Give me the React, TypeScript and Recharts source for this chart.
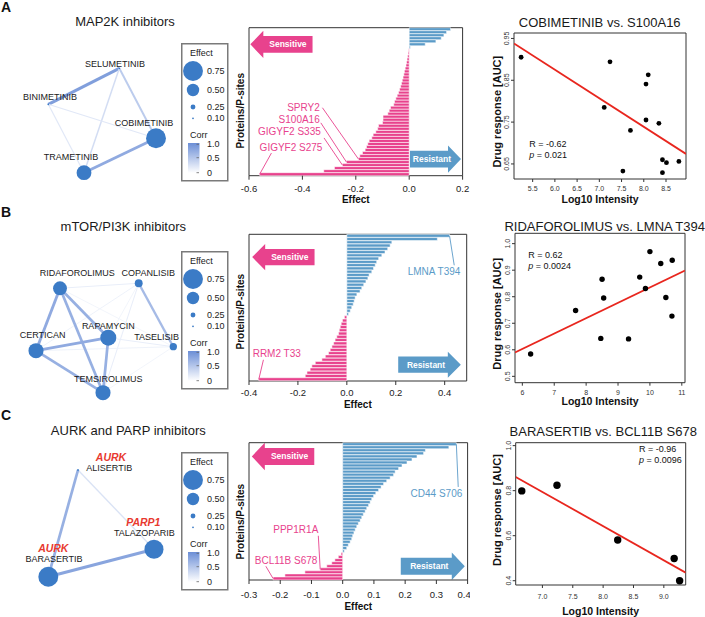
import React from 'react';
import {
  BarChart, Bar, Cell, XAxis, YAxis, ScatterChart, Scatter,
  ReferenceArea, ReferenceDot, ReferenceLine,
} from 'recharts';

const FONT = '"Liberation Sans", Arial, Helvetica, sans-serif';
const PINK = '#E8428D';
const BLUE = '#5B9BC8';
const NODE = '#3B7BC6';
const TARGET_RED = '#E8392F';
const FIT_RED = '#E8261E';

// ---------- network data ----------
const mapkDrugs = ['SELUMETINIB', 'BINIMETINIB', 'COBIMETINIB', 'TRAMETINIB'];
const mapkEffect = [0.08, 0.13, 0.75, 0.58];
const mapkEdges: [string, string, number][] = [
  ['BINIMETINIB', 'SELUMETINIB', 0.85],
  ['COBIMETINIB', 'TRAMETINIB', 0.75],
  ['SELUMETINIB', 'COBIMETINIB', 0.45],
  ['SELUMETINIB', 'TRAMETINIB', 0.3],
  ['BINIMETINIB', 'TRAMETINIB', 0.2],
  ['BINIMETINIB', 'COBIMETINIB', 0.2],
];
// node x, node y, label x, label y (layout units of the panel)
const mapkLayout: Record<string, number[]> = {
  SELUMETINIB: [119.3, 68.3, 115, 64.3],
  BINIMETINIB: [48.3, 104.3, 50, 96.7],
  COBIMETINIB: [156, 138.3, 144, 122.7],
  TRAMETINIB: [84, 172.7, 71, 156.7],
};

const mtorDrugs = ['RIDAFOROLIMUS', 'COPANLISIB', 'RAPAMYCIN', 'CERTICAN', 'TASELISIB', 'TEMSIROLIMUS'];
const mtorEffect = [0.55, 0.35, 0.62, 0.59, 0.33, 0.59];
const mtorEdges: [string, string, number][] = [
  ['RIDAFOROLIMUS', 'COPANLISIB', 0.15],
  ['COPANLISIB', 'CERTICAN', 0.12],
  ['COPANLISIB', 'TEMSIROLIMUS', 0.15],
  ['COPANLISIB', 'RAPAMYCIN', 0.1],
  ['RAPAMYCIN', 'TASELISIB', 0.15],
  ['CERTICAN', 'TASELISIB', 0.12],
  ['RIDAFOROLIMUS', 'TASELISIB', 0.1],
  ['TEMSIROLIMUS', 'TASELISIB', 0.1],
  ['COPANLISIB', 'TASELISIB', 0.6],
  ['RIDAFOROLIMUS', 'CERTICAN', 0.75],
  ['RIDAFOROLIMUS', 'RAPAMYCIN', 0.7],
  ['RIDAFOROLIMUS', 'TEMSIROLIMUS', 0.7],
  ['CERTICAN', 'RAPAMYCIN', 0.75],
  ['CERTICAN', 'TEMSIROLIMUS', 0.7],
  ['RAPAMYCIN', 'TEMSIROLIMUS', 0.7],
];
const mtorLayout: Record<string, number[]> = {
  RIDAFOROLIMUS: [60, 83.3, 77.3, 68.3],
  COPANLISIB: [138.7, 78.3, 148.3, 67.7],
  RAPAMYCIN: [108.3, 132.7, 108.3, 120.7],
  CERTICAN: [36, 145.7, 42.7, 129.7],
  TASELISIB: [173.3, 141.7, 156.7, 131.7],
  TEMSIROLIMUS: [103, 187.7, 108.3, 174],
};

const aurkDrugs = ['ALISERTIB', 'TALAZOPARIB', 'BARASERTIB'];
const aurkEffect = [0.12, 0.72, 0.75];
const aurkEdges: [string, string, number][] = [
  ['ALISERTIB', 'TALAZOPARIB', 0.25],
  ['ALISERTIB', 'BARASERTIB', 0.7],
  ['BARASERTIB', 'TALAZOPARIB', 0.8],
];
const aurkLayout: Record<string, number[]> = {
  ALISERTIB: [78, 60, 109.3, 58.3],
  TALAZOPARIB: [154, 139.3, 144.3, 122.7],
  BARASERTIB: [48.3, 166.7, 54, 149.3],
};
const aurkTargets = [
  { text: 'AURK', x: 111, y: 47.3 },
  { text: 'PARP1', x: 143.3, y: 112.3 },
  { text: 'AURK', x: 53.3, y: 138.3 },
];

const legendEffects = [0.75, 0.5, 0.25, 0.1];
const legendCorrTicks = ['1.0', '0.5', '0'];

// ---------- waterfall data (top to bottom) ----------
const effectsMapk = [
  0.155, 0.14, 0.13, 0.12, 0.1, 0.06, 0.004,
  -0.002, -0.004, -0.006, -0.008, -0.01, -0.012, -0.015, -0.018, -0.02, -0.023,
  -0.026, -0.029, -0.032, -0.036, -0.04, -0.045, -0.05, -0.055, -0.058, -0.07,
  -0.075, -0.08, -0.098, -0.098, -0.1, -0.115, -0.118, -0.125, -0.135, -0.14,
  -0.15, -0.155, -0.16, -0.165, -0.175, -0.185, -0.19, -0.235, -0.25, -0.28,
  -0.32, -0.56,
];
const hitsMapk = [
  { name: 'SPRY2', index: 43, tx: -0.335, ty: 0.543, lx: -0.325, ly: 0.549, anchor: 'end' },
  { name: 'S100A16', index: 44, tx: -0.335, ty: 0.622, lx: -0.331, ly: 0.635, anchor: 'end' },
  { name: 'GIGYF2 S335', index: 45, tx: -0.331, ty: 0.714, lx: -0.319, ly: 0.736, anchor: 'end' },
  { name: 'GIGYF2 S275', index: 48, tx: -0.325, ty: 0.797, lx: -0.516, ly: 0.838, anchor: 'end' },
];

const effectsMtor = [
  0.42, 0.37, 0.184, 0.177, 0.167, 0.156, 0.143, 0.13, 0.122, 0.116, 0.109, 0.102,
  0.091, 0.086, 0.078, 0.069, 0.061, 0.054, 0.041, 0.034, 0.03, 0.026, 0.02, 0.014, 0.007,
  -0.01, -0.018, -0.023, -0.027, -0.031, -0.034, -0.041, -0.048, -0.054, -0.061,
  -0.068, -0.075, -0.088, -0.102, -0.129, -0.143, -0.15, -0.163, -0.17, -0.36,
];
const hitsMtor = [
  { name: 'LMNA T394', index: 0, tx: 0.464, ty: 0.266, lx: 0.439, ly: 0.219, anchor: 'end' },
  { name: 'RRM2 T33', index: 44, tx: -0.385, ty: 0.816, lx: -0.341, ly: 0.852, anchor: 'start' },
];

const effectsAurk = [
  0.364, 0.34, 0.265, 0.259, 0.238, 0.222, 0.206, 0.19, 0.179, 0.168, 0.163, 0.152,
  0.141, 0.131, 0.123, 0.115, 0.106, 0.099, 0.093, 0.088, 0.083, 0.077, 0.072, 0.066,
  0.061, 0.056, 0.05, 0.045, 0.04, 0.036, 0.032, 0.029, 0.024, 0.018, 0.013, 0.005,
  -0.005, -0.014, -0.025, -0.035, -0.051, -0.072, -0.121, -0.185, -0.223,
];
const hitsAurk = [
  { name: 'CD44 S706', index: 0, tx: 0.383, ty: 0.364, lx: 0.37, ly: 0.32, anchor: 'end' },
  { name: 'PPP1R1A', index: 41, tx: -0.078, ty: 0.636, lx: -0.078, ly: 0.68, anchor: 'end' },
  { name: 'BCL11B S678', index: 44, tx: -0.081, ty: 0.854, lx: -0.246, ly: 0.896, anchor: 'end' },
];

// ---------- scatter data ----------
const s100a16Intensity = [5.24, 7.24, 7.11, 7.53, 7.7, 8.05, 8.1, 8.05, 8.34, 8.42, 8.51, 8.42, 8.79];
const cobimetinibAuc = [0.905, 0.894, 0.785, 0.633, 0.73, 0.841, 0.863, 0.755, 0.747, 0.66, 0.653, 0.629, 0.656];
const cobimetinibFit = [[5.08, 0.938], [8.95, 0.674]];

const lmnaIntensity = [6.26, 7.67, 8.5, 8.55, 8.46, 9.33, 9.68, 9.86, 10.0, 10.34, 10.5, 10.69, 10.7];
const ridaforolimusAuc = [0.584, 0.748, 0.866, 0.795, 0.643, 0.641, 0.874, 0.831, 0.97, 0.925, 0.797, 0.727, 0.9375];
const ridaforolimusFit = [[5.77, 0.59], [11.1, 0.899]];

const bcl11bIntensity = [6.66, 7.24, 8.24, 9.17, 9.26];
const barasertibAuc = [0.799, 0.824, 0.581, 0.499, 0.4];
const barasertibFit = [[6.56, 0.861], [9.36, 0.436]];

// ---------- helpers ----------
const nodeR = (e: number) => Math.max(0.9, 15 * e - 1.3);
const corrColor = (c: number) => {
  const to = [107, 142, 214];
  const ch = to.map((v) => Math.round(255 + (v - 255) * c));
  return `rgb(${ch[0]},${ch[1]},${ch[2]})`;
};
const corrWidth = (c: number) => 0.6 + 3 * c;

function Legend({ top }: { top: number }) {
  const cys = [28, 47, 64, 75.3];
  const tys = [101.3, 114.7, 129.7];
  return (
    <svg style={{ position: 'absolute', left: 181, top, overflow: 'visible' }} width={48} height={140}>
      <defs>
        <linearGradient id={`corr${top}`} x1="0" y1="0" x2="0" y2="1">
          <stop offset="0" stopColor={corrColor(1)} />
          <stop offset="1" stopColor="#ffffff" />
        </linearGradient>
      </defs>
      <rect x={0.75} y={0.75} width={46} height={137} fill="#fff" stroke="#7a7a7a" strokeWidth={1.5} />
      <text x={9} y={10} fontSize={9} dominantBaseline="central" fill="#222" fontFamily={FONT}>Effect</text>
      {legendEffects.map((e, i) => (
        <g key={e}>
          <circle cx={12} cy={cys[i]} r={nodeR(e)} fill={NODE} />
          <text x={26} y={cys[i]} fontSize={9} dominantBaseline="central" fill="#222" fontFamily={FONT}>{e.toFixed(2)}</text>
        </g>
      ))}
      <text x={9} y={92} fontSize={9} dominantBaseline="central" fill="#222" fontFamily={FONT}>Corr</text>
      <rect x={7} y={100} width={11.5} height={30} fill={`url(#corr${top})`} />
      {legendCorrTicks.map((t, i) => (
        <g key={t}>
          <line x1={15.5} x2={18} y1={tys[i]} y2={tys[i]} stroke="#666" strokeWidth={0.8} />
          <text x={26} y={tys[i]} fontSize={9} dominantBaseline="central" fill="#222" fontFamily={FONT}>{t}</text>
        </g>
      ))}
    </svg>
  );
}

type NetCfg = {
  top: number; height: number; legendTop: number;
  drugs: string[]; effects: number[]; edges: [string, string, number][];
  layout: Record<string, number[]>; targets?: { text: string; x: number; y: number }[];
};

function Network({ cfg }: { cfg: NetCfg }) {
  const nodes = cfg.drugs.map((d, i) => ({ x: cfg.layout[d][0], y: cfg.layout[d][1], effect: cfg.effects[i] }));
  const labels = cfg.drugs.map((d) => ({ x: cfg.layout[d][2], y: cfg.layout[d][3], text: d }));
  const targets = cfg.targets || [];
  return (
    <div style={{ position: 'absolute', left: 0, top: cfg.top, width: 180, height: cfg.height }}>
      <ScatterChart width={180} height={cfg.height} margin={{ top: 0, right: 0, bottom: 0, left: 0 }}>
        <XAxis type="number" dataKey="x" domain={[0, 180]} hide allowDataOverflow />
        <YAxis type="number" dataKey="y" domain={[0, cfg.height]} reversed hide allowDataOverflow />
        {cfg.edges.map(([a, b, c]) => (
          <Scatter
            key={a + b}
            data={[{ x: cfg.layout[a][0], y: cfg.layout[a][1] }, { x: cfg.layout[b][0], y: cfg.layout[b][1] }]}
            fill={corrColor(c)}
            line={{ stroke: corrColor(c), strokeWidth: corrWidth(c) }}
            shape={() => <g />}
            isAnimationActive={false}
          />
        ))}
        <Scatter
          data={nodes}
          fill={NODE}
          shape={(p: any) => <circle cx={p.cx} cy={p.cy} r={nodeR(p.payload.effect)} fill={NODE} />}
          isAnimationActive={false}
        />
        <Scatter
          data={labels}
          shape={(p: any) => (
            <text x={p.cx} y={p.cy} textAnchor="middle" dominantBaseline="central" fontSize={9} fill="#1a1a1a" fontFamily={FONT}>
              {p.payload.text}
            </text>
          )}
          isAnimationActive={false}
        />
        {targets.length > 0 && (
          <Scatter
            data={targets}
            shape={(p: any) => (
              <text x={p.cx} y={p.cy} textAnchor="middle" dominantBaseline="central" fontSize={10.5} fontWeight={700} fontStyle="italic" fill={TARGET_RED} fontFamily={FONT}>
                {p.payload.text}
              </text>
            )}
            isAnimationActive={false}
          />
        )}
      </ScatterChart>
      <Legend top={cfg.legendTop} />
    </div>
  );
}

const arrowShape = (dir: 'left' | 'right', text: string, color: string) => (p: any) => {
  const { x, y, width: w, height: h } = p;
  const hw = 13;
  const bh = h * 0.62;
  const by = y + (h - bh) / 2;
  const mid = y + h / 2;
  const pts = dir === 'left'
    ? [[x, mid], [x + hw, y], [x + hw, by], [x + w, by], [x + w, by + bh], [x + hw, by + bh], [x + hw, y + h]]
    : [[x + w, mid], [x + w - hw, y], [x + w - hw, by], [x, by], [x, by + bh], [x + w - hw, by + bh], [x + w - hw, y + h]];
  const tx = dir === 'left' ? x + hw + (w - hw) / 2 : x + (w - hw) / 2 + 3;
  return (
    <g>
      <polygon points={pts.map((q) => q.join(',')).join(' ')} fill={color} />
      <text x={tx} y={mid} textAnchor="middle" dominantBaseline="central" fontSize={8.5} fontWeight={700} fill="#fff" fontFamily={FONT}>
        {text}
      </text>
    </g>
  );
};

type Hit = { name: string; index: number; tx: number; ty: number; lx: number; ly: number; anchor: string };
type BarCfg = {
  key: string; top: number; height: number; plotTop: number; plotBottom: number; plotRight: number;
  effects: number[]; domain: [number, number]; ticks: number[]; tickMargin: number; titleOffset: number;
  yTitleY: number; hits: Hit[]; sens: number[]; res: number[];
};

function Waterfall({ cfg }: { cfg: BarCfg }) {
  const data = cfg.effects.map((v, i) => ({ id: `${cfg.key}${i}`, effect: v }));
  const n = data.length;
  const ids = data.map((d) => d.id);
  const clampIdx = (i: number) => Math.min(n - 1, Math.max(0, i));
  // row at a relative height of the plot (0 = top row, 1 = bottom row)
  const rowAt = (rel: number) => ids[clampIdx(Math.round(rel * n - 0.5))];
  const rowFrom = (rel: number) => ids[clampIdx(Math.round(rel * n))];
  const rowTo = (rel: number) => ids[clampIdx(Math.round(rel * n) - 1)];
  return (
    <div style={{ position: 'absolute', left: 230, top: cfg.top, width: 240, height: cfg.height }}>
      <BarChart
        layout="vertical"
        width={240}
        height={cfg.height}
        data={data}
        barCategoryGap={0}
        margin={{ top: cfg.plotTop - cfg.top, right: 470 - cfg.plotRight, bottom: 0, left: 0 }}
      >
        <XAxis
          type="number"
          domain={cfg.domain}
          ticks={cfg.ticks}
          allowDataOverflow
          height={cfg.top + cfg.height - cfg.plotBottom}
          axisLine={false}
          tickSize={4}
          tickMargin={cfg.tickMargin}
          tickLine={{ stroke: '#333' }}
          tick={{ fontSize: 9.5, fill: '#222', fontFamily: FONT }}
          tickFormatter={(v: number) => v.toFixed(1)}
          label={{ value: 'Effect', position: 'insideBottom', offset: cfg.titleOffset, fontSize: 10, fontWeight: 700, fill: '#111', fontFamily: FONT }}
        />
        <YAxis
          type="category"
          dataKey="id"
          width={19}
          tick={false}
          axisLine={false}
          tickLine={false}
          label={() => {
            const cx = 11;
            const cy = cfg.yTitleY - cfg.top;
            return (
              <text x={cx} y={cy} transform={`rotate(-90 ${cx} ${cy})`} textAnchor="middle" dominantBaseline="central" fontSize={10} fontWeight={700} fill="#111" fontFamily={FONT}>
                Proteins/P-sites
              </text>
            );
          }}
        />
        <Bar dataKey="effect" stroke="#fff" strokeWidth={0.55} isAnimationActive={false}>
          {data.map((d) => (
            <Cell key={d.id} fill={d.effect < 0 ? PINK : BLUE} />
          ))}
        </Bar>
        <ReferenceArea
          x1={cfg.sens[0]} x2={cfg.sens[1]} y1={rowFrom(cfg.sens[2])} y2={rowTo(cfg.sens[3])}
          ifOverflow="visible" shape={arrowShape('left', 'Sensitive', PINK)}
        />
        <ReferenceArea
          x1={cfg.res[0]} x2={cfg.res[1]} y1={rowFrom(cfg.res[2])} y2={rowTo(cfg.res[3])}
          ifOverflow="visible" shape={arrowShape('right', 'Resistant', BLUE)}
        />
        {cfg.hits.map((h) => {
          const col = cfg.effects[h.index] < 0 ? PINK : BLUE;
          return (
            <ReferenceLine
              key={`l${h.name}`}
              ifOverflow="visible"
              segment={[{ x: h.lx, y: rowAt(h.ly) }, { x: cfg.effects[h.index], y: ids[h.index] }]}
              stroke={col}
              strokeWidth={0.9}
            />
          );
        })}
        {cfg.hits.map((h) => {
          const col = cfg.effects[h.index] < 0 ? PINK : BLUE;
          return (
            <ReferenceDot
              key={`t${h.name}`}
              x={h.tx}
              y={rowAt(h.ty)}
              r={0}
              ifOverflow="visible"
              shape={(p: any) => (
                <text x={p.cx} y={p.cy} textAnchor={h.anchor} dominantBaseline="central" fontSize={10} fill={col} fontFamily={FONT}>
                  {h.name}
                </text>
              )}
            />
          );
        })}
        <ReferenceArea
          x1={cfg.domain[0]} x2={cfg.domain[1]} y1={ids[0]} y2={ids[n - 1]}
          ifOverflow="visible" fill="none" fillOpacity={0} stroke="#333" strokeWidth={1}
        />
      </BarChart>
    </div>
  );
}

type ScCfg = {
  top: number; height: number; plotTop: number; plotBottom: number; plotLeft: number; plotRight: number;
  xs: number[]; ys: number[]; fit: number[][];
  xDomain: [number, number]; yDomain: [number, number]; xTicks: number[]; yTicks: number[];
  xDigits: number; yDigits: number; dotR: number; xTickMargin: number; xTitleOffset: number;
  yTitleY: number; stat: { r: string; p: string; x: number; y: number };
};

function Correlation({ cfg }: { cfg: ScCfg }) {
  const pts = cfg.xs.map((x, i) => ({ x, y: cfg.ys[i] }));
  const fit = cfg.fit.map(([x, y]) => ({ x, y }));
  return (
    <div style={{ position: 'absolute', left: 465, top: cfg.top, width: 240, height: cfg.height }}>
      <ScatterChart
        width={240}
        height={cfg.height}
        margin={{ top: cfg.plotTop - cfg.top, right: 705 - cfg.plotRight, bottom: 0, left: 0 }}
      >
        <XAxis
          type="number"
          dataKey="x"
          domain={cfg.xDomain}
          ticks={cfg.xTicks}
          allowDataOverflow
          height={cfg.top + cfg.height - cfg.plotBottom}
          axisLine={false}
          tickSize={3}
          tickMargin={cfg.xTickMargin}
          tickLine={{ stroke: '#333' }}
          tick={{ fontSize: 7, fill: '#333', fontFamily: FONT }}
          tickFormatter={(v: number) => v.toFixed(cfg.xDigits)}
          label={{ value: 'Log10 Intensity', position: 'insideBottom', offset: cfg.xTitleOffset, fontSize: 10.5, fontWeight: 700, fill: '#111', fontFamily: FONT }}
        />
        <YAxis
          type="number"
          dataKey="y"
          domain={cfg.yDomain}
          ticks={cfg.yTicks}
          allowDataOverflow
          width={cfg.plotLeft - 465}
          axisLine={false}
          tickSize={3}
          tickMargin={2}
          tickLine={{ stroke: '#333' }}
          tick={(p: any) => (
            <text x={p.x} y={p.y} transform={`rotate(-90 ${p.x} ${p.y})`} textAnchor="middle" fontSize={7} fill="#333" fontFamily={FONT}>
              {Number(p.payload.value).toFixed(cfg.yDigits)}
            </text>
          )}
          label={() => {
            const cx = 31.7;
            const cy = cfg.yTitleY - cfg.top;
            return (
              <text x={cx} y={cy} transform={`rotate(-90 ${cx} ${cy})`} textAnchor="middle" dominantBaseline="central" fontSize={11} fontWeight={700} fill="#111" fontFamily={FONT}>
                Drug response [AUC]
              </text>
            );
          }}
        />
        <Scatter
          data={fit}
          fill={FIT_RED}
          line={{ stroke: FIT_RED, strokeWidth: 1.8 }}
          shape={() => <g />}
          isAnimationActive={false}
        />
        <Scatter
          data={pts}
          fill="#000"
          shape={(p: any) => <circle cx={p.cx} cy={p.cy} r={cfg.dotR} fill="#000" />}
          isAnimationActive={false}
        />
        <ReferenceDot
          x={cfg.stat.x}
          y={cfg.stat.y}
          r={0}
          ifOverflow="visible"
          shape={(p: any) => (
            <g fontSize={9} fill="#111" fontFamily={FONT}>
              <text x={p.cx} y={p.cy} dominantBaseline="central">{`R = ${cfg.stat.r}`}</text>
              <text x={p.cx} y={p.cy + 10.8} dominantBaseline="central">
                <tspan fontStyle="italic">p</tspan>
                {` = ${cfg.stat.p}`}
              </text>
            </g>
          )}
        />
        <ReferenceArea
          x1={cfg.xDomain[0]} x2={cfg.xDomain[1]} y1={cfg.yDomain[0]} y2={cfg.yDomain[1]}
          ifOverflow="visible" fill="none" fillOpacity={0} stroke="#333" strokeWidth={1}
        />
      </ScatterChart>
    </div>
  );
}

const networks: NetCfg[] = [
  { top: 0, height: 205, legendTop: 42.7, drugs: mapkDrugs, effects: mapkEffect, edges: mapkEdges, layout: mapkLayout },
  { top: 205, height: 205, legendTop: 46, drugs: mtorDrugs, effects: mtorEffect, edges: mtorEdges, layout: mtorLayout },
  { top: 410, height: 207, legendTop: 41.7, drugs: aurkDrugs, effects: aurkEffect, edges: aurkEdges, layout: aurkLayout, targets: aurkTargets },
];

const waterfalls: BarCfg[] = [
  {
    key: 'a', top: 0, height: 205, plotTop: 27.7, plotBottom: 175.7, plotRight: 462.6,
    effects: effectsMapk, domain: [-0.6, 0.2], ticks: [-0.6, -0.4, -0.2, 0, 0.2], tickMargin: 5.6, titleOffset: 2.4,
    yTitleY: 110.8, hits: hitsMapk, sens: [-0.595, -0.362, 0.022, 0.207], res: [0.003, 0.194, 0.804, 0.989],
  },
  {
    key: 'b', top: 205, height: 205, plotTop: 234.3, plotBottom: 381, plotRight: 466.7,
    effects: effectsMtor, domain: [-0.4, 0.49], ticks: [-0.4, -0.2, 0, 0.2, 0.4], tickMargin: 4.3, titleOffset: 2.4,
    yTitleY: 311.7, hits: hitsMtor, sens: [-0.387, -0.132, 0.068, 0.245], res: [0.21, 0.466, 0.79, 0.967],
  },
  {
    key: 'c', top: 410, height: 207, plotTop: 442.7, plotBottom: 580, plotRight: 467.6,
    effects: effectsAurk, domain: [-0.3, 0.4], ticks: [-0.3, -0.2, -0.1, 0, 0.1, 0.2, 0.3, 0.4], tickMargin: 7, titleOffset: 6.7,
    yTitleY: 521.7, hits: hitsAurk, sens: [-0.291, -0.091, 0.009, 0.206], res: [0.186, 0.391, 0.81, 1.0],
  },
];

const correlations: ScCfg[] = [
  {
    top: 0, height: 205, plotTop: 33, plotBottom: 179, plotLeft: 514, plotRight: 686,
    xs: s100a16Intensity, ys: cobimetinibAuc, fit: cobimetinibFit,
    xDomain: [5.08, 8.95], yDomain: [0.614, 0.963],
    xTicks: [5.5, 6, 6.5, 7, 7.5, 8, 8.5], yTicks: [0.65, 0.7, 0.75, 0.8, 0.85, 0.9, 0.95],
    xDigits: 1, yDigits: 2, dotR: 2.4, xTickMargin: 4.5, xTitleOffset: 1.6, yTitleY: 111.7,
    stat: { r: '-0.62', p: '0.021', x: 5.424, y: 0.698 },
  },
  {
    top: 205, height: 205, plotTop: 233.3, plotBottom: 382.7, plotLeft: 515, plotRight: 685,
    xs: lmnaIntensity, ys: ridaforolimusAuc, fit: ridaforolimusFit,
    xDomain: [5.77, 11.1], yDomain: [0.476, 1.039],
    xTicks: [6, 7, 8, 9, 10, 11], yTicks: [0.5, 0.6, 0.7, 0.8, 0.9, 1.0],
    xDigits: 0, yDigits: 1, dotR: 2.7, xTickMargin: 4.5, xTitleOffset: 4.6, yTitleY: 313.8,
    stat: { r: '0.62', p: '0.0024', x: 6.187, y: 0.957 },
  },
  {
    top: 410, height: 207, plotTop: 442.7, plotBottom: 585, plotLeft: 515.7, plotRight: 685.7,
    xs: bcl11bIntensity, ys: barasertibAuc, fit: barasertibFit,
    xDomain: [6.56, 9.36], yDomain: [0.381, 1.013],
    xTicks: [7, 7.5, 8, 8.5, 9], yTicks: [0.4, 0.5, 0.6, 0.7, 0.8, 0.9, 1.0],
    xDigits: 1, yDigits: 1, dotR: 3.7, xTickMargin: 6.5, xTitleOffset: 1.6, yTitleY: 510,
    stat: { r: '-0.96', p: '0.0096', x: 8.59, y: 0.984 },
  },
];

const panelLetters = [{ t: 'A', y: 12 }, { t: 'B', y: 216.7 }, { t: 'C', y: 420 }];
const titles = [
  { t: 'MAP2K inhibitors', x: 125, y: 21.7 },
  { t: 'mTOR/PI3K inhibitors', x: 123.3, y: 226.7 },
  { t: 'AURK and PARP inhibitors', x: 128.3, y: 430 },
  { t: 'COBIMETINIB vs. S100A16', x: 599.7, y: 22 },
  { t: 'RIDAFOROLIMUS vs. LMNA T394', x: 604.7, y: 226 },
  { t: 'BARASERTIB vs. BCL11B S678', x: 603.3, y: 431.2 },
];

export default function App() {
  return (
    <div style={{ position: 'absolute', left: 0, top: 0, width: 705, height: 617, background: '#fff', overflow: 'hidden', fontFamily: FONT }}>
      {networks.map((c) => <Network key={c.top} cfg={c} />)}
      {waterfalls.map((c) => <Waterfall key={c.key} cfg={c} />)}
      {correlations.map((c) => <Correlation key={c.top} cfg={c} />)}
      <svg style={{ position: 'absolute', left: 0, top: 0, pointerEvents: 'none' }} width={705} height={617}>
        {panelLetters.map((l) => (
          <text key={l.t} x={1} y={l.y} fontSize={14} fontWeight={700} fill="#111" fontFamily={FONT}>{l.t}</text>
        ))}
        {titles.map((t) => (
          <text key={t.t} x={t.x} y={t.y} textAnchor="middle" dominantBaseline="central" fontSize={13} fill="#1a1a1a" fontFamily={FONT}>{t.t}</text>
        ))}
      </svg>
    </div>
  );
}
